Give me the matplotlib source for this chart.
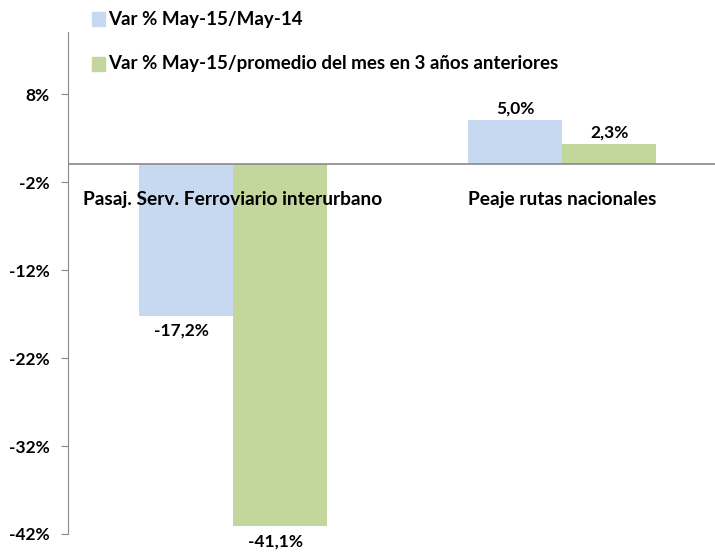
import matplotlib.pyplot as plt
import numpy as np

plt.rcParams['font.family'] = ['Lato', 'DejaVu Sans']

# data
categories = ['Pasaj. Serv. Ferroviario interurbano', 'Peaje rutas nacionales']
serie_1 = [-17.2, 5.0]
serie_2 = [-41.1, 2.3]
labels_1 = ['-17,2%', '5,0%']
labels_2 = ['-41,1%', '2,3%']
legend_names = ['Var % May-15/May-14',
                'Var % May-15/promedio del mes en 3 años anteriores']
y_ticks = [-42, -32, -22, -12, -2, 8]

blue = '#C6D9F1'
green = '#C3D69B'
grey = '#898989'

fig = plt.figure(figsize=(7.15, 5.52), dpi=100)
ax = fig.add_axes([68 / 715, 1 - 534 / 552, 659 / 715, 502 / 552])

x = np.arange(len(categories))
w = 0.285
b1 = ax.bar(x - w / 2, serie_1, w, color=blue, zorder=2)
b2 = ax.bar(x + w / 2, serie_2, w, color=green, zorder=2)

ax.set_xlim(-0.5, 1.5)
ax.set_ylim(-42, 15.05)
ax.set_yticks(y_ticks)
ax.set_yticklabels([f'{t}%' for t in y_ticks], fontsize=12.5, fontweight='bold')
ax.tick_params(axis='y', length=5, color=grey, pad=8)
ax.set_xticks([])

for s in ['top', 'right', 'bottom']:
    ax.spines[s].set_visible(False)
ax.spines['left'].set_color(grey)
ax.axhline(0, color=grey, lw=1.2, zorder=3)

# data labels
for bars, labs in [(b1, labels_1), (b2, labels_2)]:
    for rect, lab in zip(bars, labs):
        v = rect.get_height()
        cx = rect.get_x() + rect.get_width() / 2
        if v < 0:
            ax.annotate(lab, (cx, v), xytext=(-3, -5), textcoords='offset points',
                        ha='center', va='top', fontsize=12.5, fontweight='bold')
        else:
            ax.annotate(lab, (cx, v), xytext=(0, 3), textcoords='offset points',
                        ha='center', va='bottom', fontsize=12.5, fontweight='bold')

# category labels under the zero line
for xi, cat in zip(x, categories):
    ax.annotate(cat, (xi, 0), xytext=(0, -25), textcoords='offset points',
                ha='center', va='center', fontsize=13.8, fontweight='bold')

# legend
for i, (name, col) in enumerate(zip(legend_names, [blue, green])):
    yy = 1 - (19 + i * 45) / 552
    fig.patches.append(plt.Rectangle((92 / 715, yy - 7 / 552), 13 / 715, 14 / 552,
                                     transform=fig.transFigure, color=col))
    fig.text(108 / 715, yy, name, fontsize=13.5, fontweight='bold', va='center')

fig.savefig('out.png', dpi=100)
